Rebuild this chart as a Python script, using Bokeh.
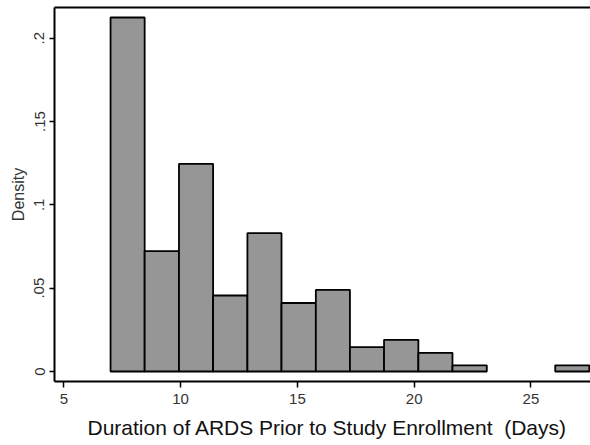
from bokeh.plotting import figure
from bokeh.models import LinearAxis, FixedTicker, Range1d, ColumnDataSource, Title
from bokeh.embed import file_html
from bokeh.resources import INLINE

# Histogram of ARDS duration (days) before enrollment, density scale
bin_edges = [7.0, 8.46, 9.93, 11.39, 12.86, 14.32, 15.79, 17.25,
             18.71, 20.18, 21.64, 23.11, 24.57, 26.04, 27.5]
densities = [0.2124, 0.0722, 0.1246, 0.0456, 0.0830, 0.0411, 0.0490,
             0.0146, 0.0190, 0.0112, 0.0037, 0.0, 0.0, 0.0037]

x_ticks = [5, 10, 15, 20, 25]
y_ticks = [0, 0.05, 0.1, 0.15, 0.2]
y_tick_labels = {0: "0", 0.05: ".05", 0.1: ".1", 0.15: ".15", 0.2: ".2"}

FONT = "Liberation Sans"
LABEL_COLOR = "#333333"

lefts, rights, tops = [], [], []
for i, d in enumerate(densities):
    if d > 0:
        lefts.append(bin_edges[i])
        rights.append(bin_edges[i + 1])
        tops.append(d)
src = ColumnDataSource(dict(left=lefts, right=rights, top=tops,
                            bottom=[0] * len(tops)))

p = figure(width=590, height=445, output_backend="svg", toolbar_location=None,
           x_range=Range1d(4.6, 27.55), y_range=Range1d(-0.006, 0.2184),
           x_axis_location=None, y_axis_location=None,
           min_border_left=54, min_border_right=0, min_border_top=7,
           min_border_bottom=64)
p.outline_line_color = None
p.grid.visible = False
p.background_fill_color = "white"
p.border_fill_color = "white"

p.quad(left="left", right="right", top="top", bottom="bottom", source=src,
       fill_color="#969696", line_color="black", line_width=1.8)

# bottom axis
xa = LinearAxis(ticker=FixedTicker(ticks=x_ticks))
xa.major_label_text_font = FONT
xa.major_label_text_font_size = "15px"
xa.major_label_text_color = LABEL_COLOR
xa.major_label_standoff = 6
xa.axis_line_width = 2
xa.major_tick_line_width = 1.5
xa.major_tick_out = 6
xa.major_tick_in = 0
xa.minor_tick_line_color = None
p.add_layout(xa, "below")

# x-axis title, placed under the tick labels
xt = Title(text="Duration of ARDS Prior to Study Enrollment \u00a0(Days)",
           align="left", offset=33, standoff=14,
           text_font=FONT, text_font_size="21px", text_font_style="normal",
           text_color="#111111")
p.add_layout(xt, "below")

# left axis
ya = LinearAxis(ticker=FixedTicker(ticks=y_ticks))
ya.major_label_overrides = y_tick_labels
ya.major_label_orientation = "vertical"
ya.axis_label = "Density"
ya.axis_label_text_font = FONT
ya.axis_label_text_font_size = "16px"
ya.axis_label_text_font_style = "normal"
ya.axis_label_text_color = LABEL_COLOR
ya.axis_label_standoff = 5
ya.major_label_text_font = FONT
ya.major_label_text_font_size = "15px"
ya.major_label_text_color = LABEL_COLOR
ya.major_label_standoff = 5
ya.axis_line_width = 2
ya.major_tick_line_width = 1.5
ya.major_tick_out = 5
ya.major_tick_in = 0
ya.minor_tick_line_color = None
p.add_layout(ya, "left")

# plain top border line
ta = LinearAxis(ticker=FixedTicker(ticks=[]))
ta.axis_line_width = 2
ta.major_tick_line_color = None
ta.minor_tick_line_color = None
ta.major_tick_out = 0
ta.major_label_standoff = 0
ta.major_label_text_font_size = "0px"
p.add_layout(ta, "above")

open("out.html", "w").write(file_html(p, INLINE))
